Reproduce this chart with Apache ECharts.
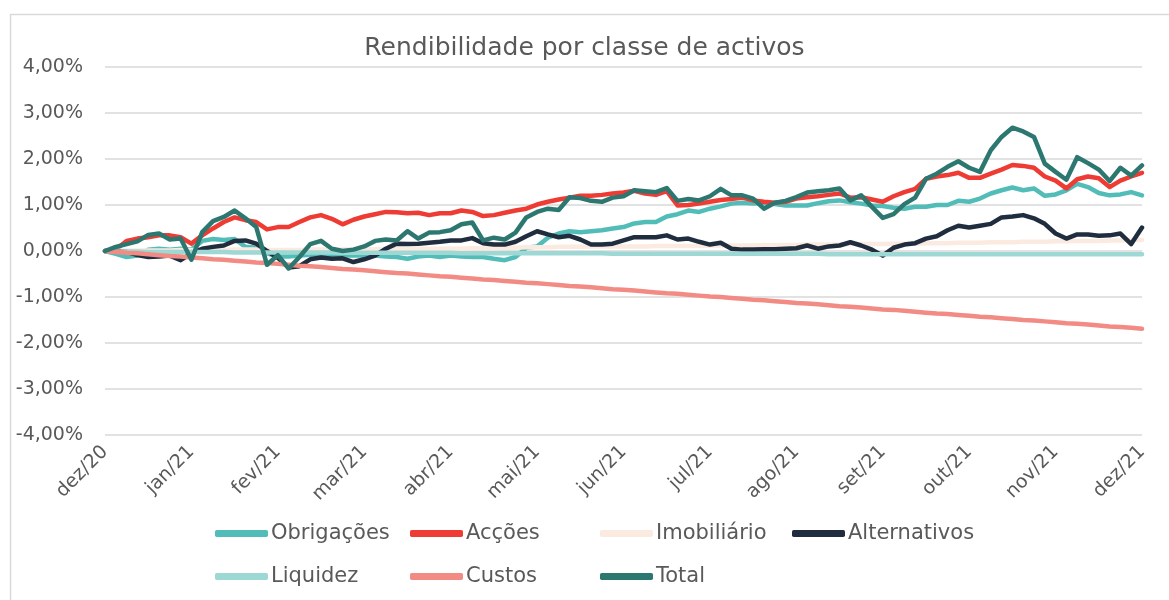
<!DOCTYPE html>
<html>
<head>
<meta charset="utf-8">
<script src="https://cdn.jsdelivr.net/npm/echarts@6/dist/echarts.min.js"></script>
<style>
html,body{margin:0;padding:0;background:#fff;}
#chart{width:1169px;height:600px;}
</style>
</head>
<body>
<div id="chart"></div>
<script>
const months = ['dez/20','jan/21','fev/21','mar/21','abr/21','mai/21','jun/21','jul/21','ago/21','set/21','out/21','nov/21','dez/21'];
const yTicks = [-4,-3,-2,-1,0,1,2,3,4];
const seriesNames = ['Obrigações','Acções','Imobiliário','Alternativos','Liquidez','Custos','Total'];

const obrigacoes = [0,-0.06,-0.13,-0.1,0.03,0.05,0.03,0.05,0.03,0.22,
0.26,0.24,0.26,0.09,0.07,-0.05,-0.12,-0.12,-0.1,-0.08,
-0.08,-0.1,-0.1,-0.1,-0.1,-0.1,-0.12,-0.13,-0.17,-0.12,
-0.1,-0.13,-0.1,-0.12,-0.13,-0.13,-0.17,-0.2,-0.13,0.07,
0.1,0.29,0.38,0.43,0.41,0.43,0.45,0.49,0.52,0.6,
0.63,0.63,0.75,0.8,0.88,0.85,0.92,0.97,1.03,1.05,
1.03,1.05,1.02,0.99,0.99,0.99,1.04,1.08,1.1,1.06,
1.03,0.99,0.98,0.94,0.92,0.96,0.96,1.0,1.0,1.09,
1.07,1.14,1.25,1.32,1.38,1.32,1.36,1.2,1.23,1.32,
1.46,1.39,1.26,1.21,1.23,1.28,1.21];

const accoes = [0,0.03,0.22,0.27,0.3,0.34,0.34,0.3,0.16,0.34,
0.49,0.63,0.73,0.67,0.63,0.47,0.52,0.52,0.63,0.73,
0.78,0.7,0.58,0.68,0.75,0.8,0.85,0.84,0.82,0.83,
0.78,0.82,0.82,0.88,0.85,0.76,0.78,0.83,0.88,0.92,
1.01,1.07,1.12,1.16,1.2,1.2,1.22,1.25,1.27,1.31,
1.25,1.22,1.3,0.99,1.0,1.03,1.07,1.11,1.13,1.16,
1.1,1.07,1.05,1.07,1.14,1.17,1.19,1.22,1.25,1.16,
1.17,1.12,1.07,1.19,1.28,1.35,1.57,1.62,1.65,1.7,
1.59,1.59,1.68,1.77,1.87,1.85,1.81,1.62,1.53,1.36,
1.56,1.62,1.58,1.39,1.53,1.62,1.7];

const imobiliario = [0,0,0.01,0.01,0.01,0.01,0.01,0.02,0.02,0.02,
0.02,0.02,0.03,0.03,0.03,0.02,0.02,0.02,0.02,0.03,
0.03,0.03,0.03,0.03,0.03,0.04,0.04,0.04,0.04,0.05,
0.05,0.05,0.05,0.05,0.06,0.06,0.06,0.07,0.07,0.08,
0.08,0.08,0.09,0.09,0.09,0.1,0.1,0.1,0.1,0.1,
0.1,0.11,0.11,0.11,0.11,0.11,0.12,0.12,0.12,0.12,
0.12,0.13,0.13,0.13,0.13,0.14,0.14,0.14,0.14,0.15,
0.15,0.15,0.15,0.16,0.16,0.16,0.17,0.17,0.17,0.18,
0.18,0.18,0.19,0.19,0.19,0.2,0.2,0.2,0.21,0.21,
0.22,0.22,0.22,0.23,0.23,0.24,0.24];

const alternativos = [0,0,-0.02,-0.09,-0.13,-0.12,-0.1,-0.2,-0.05,0.05,
0.09,0.12,0.22,0.23,0.16,0.0,-0.15,-0.36,-0.33,-0.18,
-0.14,-0.17,-0.16,-0.24,-0.18,-0.1,0.05,0.16,0.15,0.16,
0.18,0.2,0.23,0.23,0.28,0.17,0.14,0.14,0.2,0.32,
0.43,0.36,0.3,0.33,0.25,0.14,0.14,0.16,0.23,0.3,
0.3,0.3,0.34,0.25,0.27,0.2,0.14,0.18,0.05,0.03,
0.03,0.04,0.04,0.05,0.06,0.12,0.05,0.1,0.12,0.19,
0.12,0.03,-0.1,0.07,0.14,0.17,0.27,0.32,0.45,0.55,
0.51,0.55,0.59,0.73,0.75,0.78,0.71,0.59,0.38,0.27,
0.36,0.36,0.33,0.34,0.38,0.15,0.51];

const liquidez = [0,-0.01,-0.01,-0.01,-0.02,-0.02,-0.02,-0.02,-0.02,-0.02,
-0.02,-0.02,-0.03,-0.03,-0.03,-0.03,-0.03,-0.03,-0.03,-0.03,
-0.03,-0.03,-0.04,-0.04,-0.04,-0.04,-0.04,-0.04,-0.04,-0.04,
-0.04,-0.04,-0.04,-0.05,-0.05,-0.05,-0.05,-0.05,-0.05,-0.05,
-0.05,-0.05,-0.05,-0.05,-0.05,-0.05,-0.05,-0.06,-0.06,-0.06,
-0.06,-0.06,-0.06,-0.06,-0.06,-0.06,-0.06,-0.06,-0.06,-0.06,
-0.06,-0.06,-0.06,-0.06,-0.06,-0.06,-0.06,-0.07,-0.07,-0.07,
-0.07,-0.07,-0.07,-0.07,-0.07,-0.07,-0.07,-0.07,-0.07,-0.07,
-0.07,-0.07,-0.07,-0.07,-0.07,-0.07,-0.07,-0.07,-0.07,-0.07,
-0.07,-0.07,-0.07,-0.07,-0.07,-0.07,-0.07];

const custos = [0,-0.02,-0.04,-0.05,-0.07,-0.09,-0.11,-0.12,-0.14,-0.16,
-0.18,-0.19,-0.21,-0.23,-0.25,-0.26,-0.28,-0.30,-0.32,-0.33,
-0.35,-0.37,-0.39,-0.40,-0.42,-0.44,-0.46,-0.48,-0.49,-0.51,
-0.53,-0.55,-0.56,-0.58,-0.60,-0.62,-0.63,-0.65,-0.67,-0.69,
-0.70,-0.72,-0.74,-0.76,-0.77,-0.79,-0.81,-0.83,-0.84,-0.86,
-0.88,-0.90,-0.92,-0.93,-0.95,-0.97,-0.99,-1.00,-1.02,-1.04,
-1.06,-1.07,-1.09,-1.11,-1.13,-1.14,-1.16,-1.18,-1.20,-1.21,
-1.23,-1.25,-1.27,-1.28,-1.30,-1.32,-1.34,-1.36,-1.37,-1.39,
-1.41,-1.43,-1.44,-1.46,-1.48,-1.50,-1.51,-1.53,-1.55,-1.57,
-1.58,-1.60,-1.62,-1.64,-1.65,-1.67,-1.69];

const total = [0,0.09,0.15,0.21,0.35,0.38,0.25,0.27,-0.19,0.41,
0.65,0.74,0.88,0.71,0.52,-0.3,-0.09,-0.38,-0.13,0.15,
0.22,0.05,0.0,0.03,0.1,0.22,0.25,0.23,0.43,0.27,
0.4,0.41,0.45,0.58,0.62,0.23,0.29,0.25,0.4,0.73,
0.85,0.92,0.89,1.17,1.15,1.09,1.07,1.16,1.19,1.32,
1.3,1.28,1.37,1.09,1.13,1.1,1.19,1.35,1.21,1.21,
1.14,0.92,1.05,1.09,1.17,1.27,1.3,1.32,1.36,1.1,
1.21,0.96,0.72,0.8,1.02,1.16,1.57,1.68,1.83,1.95,
1.81,1.72,2.19,2.48,2.68,2.6,2.48,1.9,1.72,1.55,
2.04,1.91,1.77,1.52,1.81,1.64,1.86];

const colors = ['#52bdb8','#ee3b34','#fbeadf','#1f2d3f','#9dd8d5','#f38b85','#2c7770'];
const dataSets = [obrigacoes, accoes, imobiliario, alternativos, liquidez, custos, total];

const perMonth = (obrigacoes.length - 1) / (months.length - 1);
const categories = obrigacoes.map((_, i) => (i % perMonth === 0 ? months[i / perMonth] : ''));

const FONT = 'DejaVu Sans';
const legendPos = [[215,523],[410,523],[600,523],[792,523],[215,566],[410,566],[600,566]];

const chart = echarts.init(document.getElementById('chart'), null, {renderer:'canvas'});
chart.setOption({
  animation: false,
  backgroundColor: '#ffffff',
  title: {
    text: 'Rendibilidade por classe de activos',
    left: 'center',
    top: 31,
    textStyle: {fontFamily: FONT, fontSize: 25, fontWeight: 'normal', color: '#595959'}
  },
  graphic: [{
    type: 'rect', left: 8, top: 12, silent: true,
    shape: {width: 1200, height: 700},
    style: {fill: 'none', stroke: '#d9d9d9', lineWidth: 1.5}
  }],
  legend: seriesNames.map((n, k) => ({
    data: [n],
    left: legendPos[k][0],
    top: legendPos[k][1],
    padding: 0,
    icon: 'roundRect',
    itemWidth: 53,
    itemHeight: 7,
    textStyle: {fontFamily: FONT, fontSize: 21, color: '#595959', padding: [0,0,0,-2]}
  })),
  grid: {left: 105, right: 27, top: 67, bottom: 165, containLabel: false},
  xAxis: {
    type: 'category',
    data: categories,
    boundaryGap: false,
    axisLine: {show: false},
    axisTick: {show: false},
    splitLine: {show: false},
    axisLabel: {
      interval: perMonth - 1,
      rotate: 45,
      margin: 14,
      fontFamily: FONT,
      fontSize: 19,
      color: '#595959'
    }
  },
  yAxis: {
    type: 'value',
    min: yTicks[0],
    max: yTicks[yTicks.length - 1],
    interval: 1,
    axisLine: {show: false},
    axisTick: {show: false},
    splitLine: {lineStyle: {color: '#d9d9d9', width: 1.5}},
    axisLabel: {
      margin: 22,
      fontFamily: FONT,
      fontSize: 19,
      color: '#595959',
      formatter: v => v.toFixed(2).replace('.', ',') + '%'
    }
  },
  series: seriesNames.map((n, k) => ({
    name: n,
    type: 'line',
    data: dataSets[k],
    symbol: 'none',
    color: colors[k],
    lineStyle: {width: 4.5, color: colors[k], cap: 'round', join: 'round'},
    z: 2 + k
  }))
});
</script>
</body>
</html>
